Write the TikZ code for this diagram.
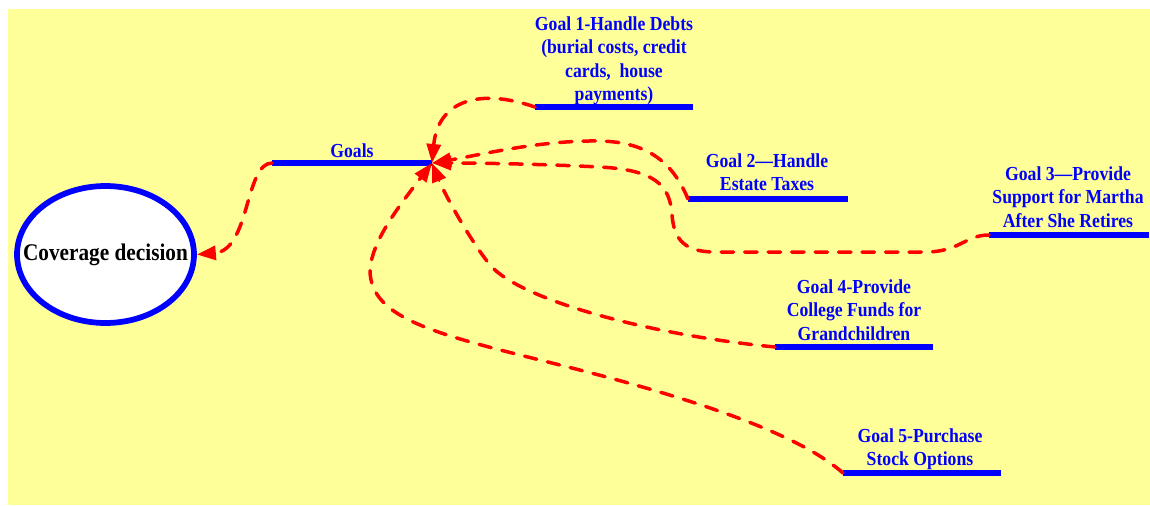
\documentclass[tikz,border=0pt]{standalone}
\usepackage{fontspec}
\setmainfont{Liberation Serif}[FakeStretch=0.89]
\usetikzlibrary{arrows.meta,shapes.geometric}
\definecolor{padyellow}{RGB}{255,255,153}
\definecolor{goalblue}{RGB}{0,0,255}

\begin{document}
\begin{tikzpicture}[x=0.02cm,y=-0.02cm,
  goalline/.style={goalblue,line width=1.06mm},
  goaltext/.style={text=goalblue,font=\fontsize{11.3}{13.4}\selectfont\bfseries,align=center,inner sep=0pt,anchor=north},
  goalarrow/.style={-{Triangle[length=3.8mm,width=2.8mm]},red,line width=0.7mm,dash pattern=on 2.5mm off 2.2mm,line cap=round}]
  % fondo
  \useasboundingbox (0,0) rectangle (1150,505);
  \fill[padyellow] (8,9) rectangle (1150,505);
  % decision (ellipse)
  \node[ellipse,draw=goalblue,line width=1.15mm,fill=white,minimum width=3.54cm,minimum height=2.74cm,inner sep=0pt] (decision) at (105.5,254.5) {};
  \node[font=\fontsize{13.6}{16}\selectfont\bfseries,inner sep=0pt] (decisiontxt) at (decision.center) {Coverage decision};
  % puntos de las lineas
  \coordinate (hub) at (432,163);
  \coordinate (gl) at (272,163);
  \coordinate (g1l) at (535,107); \coordinate (g1r) at (693,107);
  \coordinate (g2l) at (688,199); \coordinate (g2r) at (848,199);
  \coordinate (g3l) at (989,235); \coordinate (g3r) at (1149,235);
  \coordinate (g4l) at (775,347); \coordinate (g4r) at (933,347);
  \coordinate (g5l) at (843,473); \coordinate (g5r) at (1001,473);
  % lineas azules
  \draw[goalline] (gl)--(hub);
  \draw[goalline] (g1l)--(g1r);
  \draw[goalline] (g2l)--(g2r);
  \draw[goalline] (g3l)--(g3r);
  \draw[goalline] (g4l)--(g4r);
  \draw[goalline] (g5l)--(g5r);
  % textos
  \node[goaltext] (goalslbl) at (352,143) {Goals};
  \node[goaltext] (t1) at (614,16) {Goal 1-Handle Debts\\(burial costs, credit\\cards,\ \ house\\payments)};
  \node[goaltext] (t2) at (767,153) {Goal 2---Handle\\Estate Taxes};
  \node[goaltext] (t3) at (1068,166) {Goal 3---Provide\\Support for Martha\\After She Retires};
  \node[goaltext] (t4) at (854,279) {Goal 4-Provide\\College Funds for\\Grandchildren};
  \node[goaltext] (t5) at (920,428) {Goal 5-Purchase\\Stock Options};
  % flechas rojas
  \draw[goalarrow] (gl) .. controls (245,163) and (250,250) .. (decision.east);
  \draw[goalarrow] (g1l) .. controls (480,88) and (438,100) .. (hub);
  \draw[goalarrow] (g2l) .. controls (672,160) and (645,142) .. (600,141)
                         .. controls (540,140) and (480,155) .. (hub);
  \draw[goalarrow] (g3l) .. controls (965,235) and (960,252) .. (925,252) -- (715,252)
                         .. controls (685,252) and (674,240) .. (672,215)
                         .. controls (670,185) and (655,170) .. (600,167)
                         .. controls (540,164) and (480,163) .. (hub);
  \draw[goalarrow] (g4l) .. controls (650,335) and (520,300) .. (490,265)
                         .. controls (470,240) and (445,195) .. (hub);
  \draw[goalarrow] (g5l) .. controls (800,435) and (700,400) .. (560,365)
                         .. controls (440,335) and (370,320) .. (370,270)
                         .. controls (372,240) and (400,205) .. (hub);
\end{tikzpicture}
\end{document}
